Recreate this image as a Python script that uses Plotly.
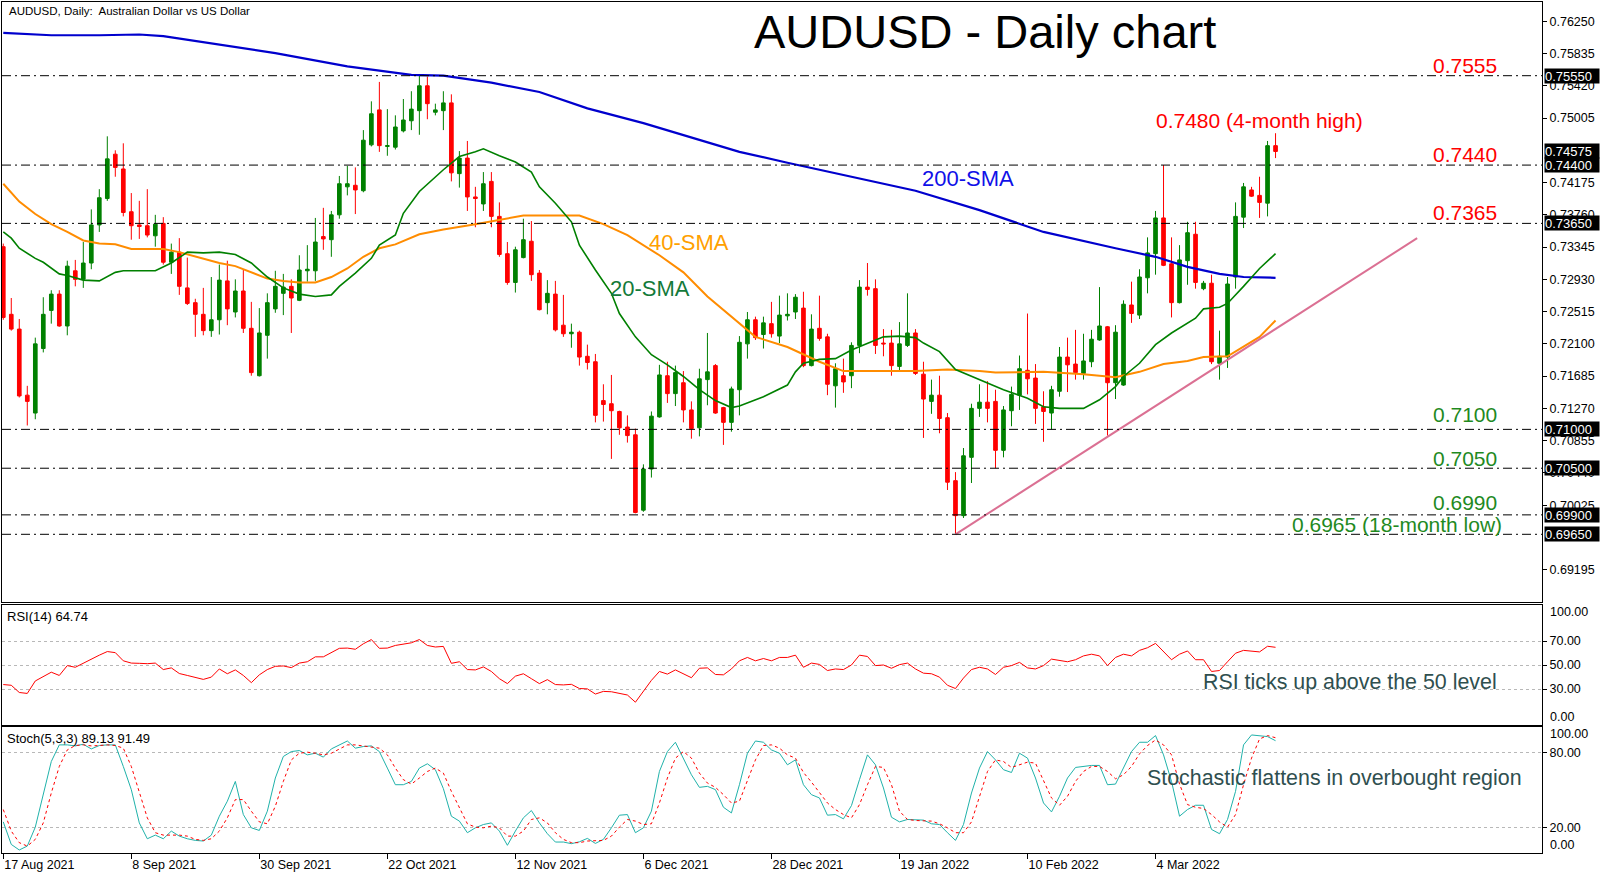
import plotly.graph_objects as go

# ---------------- DATA ----------------
opens = [0.7335,0.7248,0.7229,0.7144,0.7121,0.7204,0.7253,0.7274,0.7233,0.7304,
         0.7293,0.7314,0.7363,0.7397,0.7454,0.7435,0.7380,0.7363,0.7362,0.7349,
         0.7365,0.7315,0.7328,0.7282,0.7263,0.7248,0.7227,0.7241,0.7291,0.7251,
         0.7278,0.7230,0.7169,0.7221,0.7255,0.7275,0.7284,0.7266,0.7304,0.7304,
         0.7348,0.7344,0.7376,0.7412,0.7414,0.7407,0.7466,0.7511,0.7464,0.7463,
         0.7484,0.7497,0.7510,0.7542,0.7508,0.7510,0.7520,0.7429,0.7449,0.7399,
         0.7390,0.7419,0.7374,0.7326,0.7289,0.7321,0.7342,0.7301,0.7263,0.7274,
         0.7234,0.7223,0.7225,0.7194,0.7187,0.7137,0.7133,0.7123,0.7103,0.7093,
         0.6996,0.7049,0.7116,0.7169,0.7146,0.7160,0.7125,0.7102,0.7164,0.7182,
         0.7128,0.7109,0.7151,0.7210,0.7241,0.7222,0.7236,0.7220,0.7246,0.7251,
         0.7256,0.7182,0.7230,0.7219,0.7156,0.7169,0.7169,0.7208,0.7283,0.7281,
         0.7211,0.7211,0.7181,0.7208,0.7224,0.7171,0.7136,0.7144,0.7115,0.7034,
         0.6989,0.7064,0.7127,0.7135,0.7136,0.7073,0.7124,0.7144,0.7176,0.7166,
         0.7129,0.7121,0.7149,0.7193,0.7184,0.7172,0.7187,0.7215,0.7232,0.7160,
         0.7157,0.7260,0.7247,0.7295,0.7326,0.7372,0.7313,0.7263,0.7317,0.7351,
         0.7281,0.7288,0.7185,0.7193,0.7296,0.7373,0.7408,0.7401,0.7391,0.7465]
highs = [0.7339,0.7269,0.7242,0.7156,0.7218,0.7270,0.7279,0.7279,0.7317,0.7318,
         0.7341,0.7383,0.7409,0.7477,0.7459,0.7468,0.7404,0.7394,0.7409,0.7376,
         0.7373,0.7339,0.7346,0.7321,0.7268,0.7282,0.7296,0.7312,0.7317,0.7293,
         0.7305,0.7264,0.7256,0.7275,0.7304,0.7300,0.7293,0.7324,0.7337,0.7372,
         0.7385,0.7381,0.7426,0.7439,0.7437,0.7485,0.7522,0.7547,0.7512,0.7504,
         0.7525,0.7535,0.7555,0.7554,0.7519,0.7535,0.7531,0.7458,0.7471,0.7412,
         0.7431,0.7431,0.7392,0.7341,0.7335,0.7371,0.7368,0.7305,0.7292,0.7291,
         0.7273,0.7236,0.7227,0.7209,0.7197,0.7158,0.7170,0.7124,0.7118,0.7101,
         0.7055,0.7123,0.7183,0.7187,0.7182,0.7175,0.7136,0.7178,0.7224,0.7184,
         0.7129,0.7155,0.7220,0.7251,0.7245,0.7245,0.7264,0.7272,0.7275,0.7274,
         0.7277,0.7248,0.7272,0.7223,0.7185,0.7191,0.7212,0.7292,0.7314,0.7293,
         0.7229,0.7228,0.7238,0.7275,0.7229,0.7187,0.7164,0.7169,0.7121,0.7045,
         0.7076,0.7133,0.7158,0.7162,0.7151,0.7130,0.7155,0.7195,0.7249,0.7184,
         0.7149,0.7156,0.7206,0.7218,0.7228,0.7223,0.7228,0.7283,0.7233,0.7234,
         0.7266,0.7290,0.7306,0.7347,0.7381,0.7440,0.7347,0.7337,0.7367,0.7367,
         0.7291,0.7299,0.7227,0.7296,0.7392,0.7417,0.7412,0.7425,0.7471,0.7481]
lows = [0.7241,0.7227,0.7141,0.7105,0.7113,0.7199,0.7236,0.7232,0.7221,0.7284,
        0.7282,0.7306,0.7354,0.7394,0.7425,0.7374,0.7344,0.7345,0.7347,0.7335,
        0.7312,0.7300,0.7273,0.7260,0.7219,0.7221,0.7219,0.7222,0.7234,0.7244,
        0.7224,0.7169,0.7168,0.7191,0.7250,0.7247,0.7224,0.7265,0.7290,0.7291,
        0.7331,0.7322,0.7371,0.7401,0.7377,0.7405,0.7464,0.7457,0.7452,0.7460,
        0.7482,0.7485,0.7479,0.7499,0.7504,0.7485,0.7419,0.7411,0.7381,0.7360,
        0.7381,0.7360,0.7322,0.7286,0.7276,0.7320,0.7291,0.7253,0.7248,0.7226,
        0.7219,0.7205,0.7182,0.7177,0.7109,0.7110,0.7062,0.7093,0.7083,0.6992,
        0.6994,0.7038,0.7115,0.7134,0.7130,0.7109,0.7088,0.7091,0.7131,0.7120,
        0.7080,0.7097,0.7118,0.7191,0.7215,0.7204,0.7218,0.7211,0.7240,0.7242,
        0.7180,0.7181,0.7214,0.7144,0.7128,0.7147,0.7153,0.7198,0.7272,0.7197,
        0.7194,0.7169,0.7175,0.7206,0.7170,0.7089,0.7120,0.7095,0.7022,0.6965,
        0.6986,0.7031,0.7116,0.7109,0.7050,0.7064,0.7104,0.7125,0.7145,0.7107,
        0.7084,0.7100,0.7142,0.7148,0.7164,0.7164,0.7180,0.7214,0.7092,0.7139,
        0.7156,0.7237,0.7242,0.7275,0.7299,0.7310,0.7244,0.7262,0.7286,0.7281,
        0.7279,0.7184,0.7164,0.7179,0.7281,0.7359,0.7399,0.7372,0.7374,0.7449]
closes = [0.7244,0.7229,0.7143,0.7136,0.7210,0.7248,0.7274,0.7233,0.7310,0.7293,
          0.7314,0.7363,0.7398,0.7448,0.7437,0.7379,0.7362,0.7361,0.7350,0.7364,
          0.7315,0.7328,0.7284,0.7262,0.7248,0.7227,0.7241,0.7292,0.7255,0.7278,
          0.7230,0.7173,0.7224,0.7263,0.7284,0.7283,0.7269,0.7305,0.7306,0.7341,
          0.7345,0.7376,0.7416,0.7416,0.7408,0.7472,0.7506,0.7465,0.7465,0.7489,
          0.7498,0.7512,0.7542,0.7519,0.7511,0.7520,0.7430,0.7449,0.7399,0.7397,
          0.7416,0.7374,0.7325,0.7289,0.7331,0.7344,0.7299,0.7254,0.7275,0.7228,
          0.7223,0.7225,0.7193,0.7186,0.7118,0.7132,0.7124,0.7102,0.7092,0.6993,
          0.7049,0.7117,0.7170,0.7146,0.7173,0.7125,0.7101,0.7165,0.7174,0.7121,
          0.7109,0.7152,0.7212,0.7241,0.7218,0.7237,0.7223,0.7247,0.7248,0.7270,
          0.7182,0.7229,0.7217,0.7158,0.7178,0.7161,0.7208,0.7283,0.7280,0.7208,
          0.7210,0.7182,0.7210,0.7224,0.7172,0.7139,0.7144,0.7114,0.7032,0.6989,
          0.7066,0.7127,0.7135,0.7127,0.7073,0.7125,0.7145,0.7178,0.7165,0.7127,
          0.7123,0.7151,0.7193,0.7183,0.7173,0.7188,0.7216,0.7233,0.7160,0.7225,
          0.7261,0.7249,0.7296,0.7327,0.7372,0.7311,0.7263,0.7318,0.7353,0.7289,
          0.7288,0.7187,0.7194,0.7287,0.7374,0.7412,0.7400,0.7392,0.7465,0.74575]

# moving averages (bar index, value)
sma200_idx = [0, 6, 12, 17, 20, 25, 34, 43, 51, 55, 61, 67, 73, 80, 86, 92, 98, 105, 114, 122, 130, 139, 144, 148, 152, 155, 159]
sma200_val = [0.7610, 0.7607, 0.7607, 0.7608, 0.7606, 0.7598, 0.7584, 0.7567, 0.7556, 0.7555, 0.7546, 0.7534, 0.7513, 0.7494,
              0.7475, 0.7457, 0.7443, 0.7427, 0.7407, 0.7382, 0.7354, 0.7333, 0.7322, 0.7309, 0.7300, 0.7296, 0.7295]
sma40_idx = [0, 2, 4, 6, 8, 10, 12, 14, 16, 20, 22, 25, 27, 29, 31, 33, 35, 37, 39, 41, 43, 45, 47, 49, 52, 55, 59, 65, 69, 72,
             75, 78, 82, 85, 88, 92, 94, 98, 100, 102, 105, 110, 114, 118, 122, 124, 130, 135, 139, 142, 145, 148, 150, 153, 155, 157, 159]
sma40_val = [0.7416, 0.7393, 0.7377, 0.7364, 0.7354, 0.7343, 0.7339, 0.7338, 0.7332, 0.7332, 0.7328, 0.7320, 0.7314, 0.7310,
             0.7302, 0.7294, 0.7291, 0.7289, 0.7289, 0.7296, 0.7307, 0.7322, 0.7333, 0.7338, 0.7351, 0.7357, 0.7364, 0.7375,
             0.7375, 0.7375, 0.7364, 0.7350, 0.7324, 0.7302, 0.7271, 0.7237, 0.7219, 0.7206, 0.7196, 0.7187, 0.7175, 0.7175,
             0.7175, 0.7177, 0.7175, 0.7173, 0.7174, 0.7171, 0.7167, 0.7174, 0.7184, 0.7188, 0.7193, 0.7194, 0.7206, 0.7219, 0.7240]
sma20_idx = [0, 1, 2, 4, 5, 6, 7, 8, 10, 12, 14, 15, 19, 21, 23, 25, 27, 29, 31, 33, 35, 37, 39, 41, 42, 44, 46, 47, 49, 50,
             52, 55, 57, 59, 60, 62, 64, 66, 67, 69, 71, 72, 74, 76, 77, 79, 81, 83, 85, 87, 89, 91, 92, 95, 98, 99, 100, 102,
             104, 106, 108, 110, 112, 114, 115, 117, 119, 121, 123, 125, 128, 130, 132, 135, 137, 139, 140, 142, 144, 146, 149,
             150, 152, 153, 155, 157, 159]
sma20_val = [0.7354, 0.7346, 0.7333, 0.7320, 0.7315, 0.7307, 0.7300, 0.7298, 0.7292, 0.7291, 0.7302, 0.7304, 0.7304, 0.7314,
             0.7328, 0.7327, 0.7328, 0.7325, 0.7314, 0.7296, 0.7282, 0.7274, 0.7271, 0.7273, 0.7284, 0.7301, 0.7320, 0.7337,
             0.7350, 0.7378, 0.7406, 0.7434, 0.7451, 0.7457, 0.7461, 0.7452, 0.7444, 0.7431, 0.7412, 0.7391, 0.7367, 0.7337,
             0.7305, 0.7275, 0.7249, 0.7219, 0.7196, 0.7183, 0.7168, 0.7151, 0.7137, 0.7128, 0.7130, 0.7142, 0.7157, 0.7174,
             0.7185, 0.7190, 0.7191, 0.7202, 0.7211, 0.7219, 0.7220, 0.7218, 0.7211, 0.7200, 0.7177, 0.7168, 0.7159, 0.7151,
             0.7140, 0.7129, 0.7127, 0.7127, 0.7138, 0.7155, 0.7168, 0.7185, 0.7209, 0.7224, 0.7243, 0.7255, 0.7257, 0.7262,
             0.7284, 0.7307, 0.7326]

trend_idx = [119, 176.7]
trend_val = [0.6965, 0.7346]

rsi = [33.7,33.1,27.1,26.3,36.7,40.7,44.0,41.3,49.5,48.1,51.6,55.4,58.2,61.2,60.3,53.5,51.6,51.4,51.1,51.6,
       46.2,47.6,42.9,41.3,39.9,38.0,39.9,46.7,42.7,45.9,41.3,35.3,41.8,46.2,48.9,49.2,47.8,51.6,52.7,56.8,
       56.8,60.3,63.9,64.1,63.1,67.7,71.2,63.9,64.1,66.3,67.4,68.5,71.2,66.3,65.0,65.5,51.4,52.7,46.2,45.9,
       48.4,44.6,38.6,34.5,40.7,42.7,38.6,34.5,37.8,33.7,33.4,33.9,30.4,30.1,25.8,28.0,27.7,26.3,25.0,19.0,
       28.2,37.2,44.6,42.4,45.9,42.7,39.4,47.3,47.6,42.1,41.8,46.7,53.5,56.3,53.5,55.4,53.5,56.3,56.3,58.2,
       48.1,51.6,50.5,45.4,46.7,46.2,50.0,58.2,57.1,49.5,50.0,47.3,50.3,51.6,46.7,43.2,42.7,39.9,33.1,30.4,
       39.1,46.2,48.1,46.7,42.1,48.1,49.5,52.2,47.6,46.7,49.5,54.9,53.5,52.7,54.4,57.6,59.0,57.6,49.5,56.3,
       59.0,57.6,62.2,64.4,68.0,60.9,54.4,59.0,61.7,54.4,54.4,44.6,45.4,52.7,59.8,62.2,61.7,60.9,65.6,64.74]
stoch_k = [24.7,6.8,2.4,5.5,20.5,46.3,72.6,85.8,85.8,85.0,86.3,82.6,85.3,85.8,85.8,68.7,50.3,23.9,11.3,14.2,
           11.3,17.4,13.4,11.3,10.0,9.5,14.2,29.2,41.1,56.8,30.5,20.0,17.9,33.2,59.5,76.6,80.5,81.3,77.9,79.2,
           76.1,82.6,85.8,88.9,83.2,84.5,85.0,80.5,67.4,54.2,54.2,56.8,67.4,70.8,66.1,51.1,29.2,25.3,16.1,20.0,
           22.6,23.9,17.4,6.1,17.4,27.9,33.7,23.9,15.3,8.7,8.7,7.4,8.9,11.6,7.6,10.8,20.0,30.0,30.5,16.1,
           20.0,33.2,64.7,80.5,87.9,75.3,62.1,52.1,52.9,50.3,36.3,31.8,54.2,79.2,88.9,87.9,81.8,79.2,70.0,73.9,
           54.2,46.3,43.7,30.0,30.5,27.1,37.6,58.2,77.9,70.0,51.6,28.4,24.7,26.6,26.1,26.1,23.2,22.6,16.1,10.0,
           22.6,47.6,67.4,80.5,73.9,66.1,63.9,79.2,75.3,59.5,39.7,32.6,45.0,59.5,67.9,68.7,69.5,69.5,54.2,54.7,
           67.4,80.5,87.9,87.9,93.2,77.9,56.8,29.2,34.5,37.9,37.9,18.7,15.3,26.6,48.9,85.8,93.7,92.9,92.4,89.13]
stoch_d = [34.5,17.4,8.2,5.5,10.8,23.9,47.6,68.7,81.8,85.3,85.8,85.0,85.3,85.8,85.3,83.2,68.7,48.9,27.9,16.1,
           14.2,14.2,14.2,13.4,10.8,10.0,11.3,17.4,27.9,42.4,42.4,33.2,24.7,23.2,37.1,56.8,73.9,79.2,80.0,79.2,
           77.9,79.2,82.4,85.8,85.8,85.0,84.5,83.2,77.9,67.4,58.2,54.7,59.5,64.7,67.4,63.4,48.9,35.8,23.2,20.5,
           20.0,21.3,20.0,13.4,13.4,17.4,26.6,27.9,23.9,16.1,10.8,8.2,8.2,9.5,9.5,10.0,13.4,20.5,26.6,25.3,
           22.6,23.2,39.7,59.5,75.3,80.5,75.3,63.4,55.5,52.1,46.3,39.7,41.1,56.8,73.9,85.3,85.8,83.2,77.9,75.3,
           63.9,56.3,47.6,39.7,34.5,30.5,27.9,38.4,54.2,68.7,67.9,54.2,33.2,26.6,25.8,25.8,25.3,23.2,20.0,16.1,
           16.1,24.7,45.0,64.7,73.9,72.6,67.9,70.0,72.1,71.3,56.8,43.7,37.9,45.0,56.8,64.7,68.7,68.7,64.7,58.9,
           62.1,68.7,78.7,85.3,89.7,85.8,77.9,54.7,38.4,36.3,35.3,30.5,24.7,20.5,30.5,54.2,75.3,90.5,93.2,91.49]

red_levels = [0.7555, 0.7440, 0.7365]
green_levels = [0.7100, 0.7050, 0.6990, 0.6965]
high_label = 0.7480
price_ticks = [0.69195, 0.70025, 0.70440, 0.70855, 0.71270, 0.71685, 0.72100, 0.72515,
               0.72930, 0.73345, 0.73760, 0.74175, 0.75005, 0.75420, 0.75835, 0.76250]
date_idx = [0, 16, 32, 48, 64, 80, 96, 112, 128, 144]
date_labels = ["17 Aug 2021", "8 Sep 2021", "30 Sep 2021", "22 Oct 2021", "12 Nov 2021",
               "6 Dec 2021", "28 Dec 2021", "19 Jan 2022", "10 Feb 2022", "4 Mar 2022"]
rsi_levels = [30, 50, 70]
stoch_levels = [20, 80]

# ---------------- LAYOUT HELPERS ----------------
W, H = 1610, 877
ML, MR, MT, MB = 2, 68, 2, 24
PW = W - ML - MR
PH = H - MT - MB
FONT = "Liberation Sans, Arial, sans-serif"


def px(x):
    return (x - ML) / PW


def py(y):
    return (H - MB - y) / PH


bars = list(range(len(opens)))

fig = go.Figure()
fig.add_trace(go.Candlestick(
    x=bars, open=opens, high=highs, low=lows, close=closes,
    increasing=dict(line=dict(color="#008000", width=1), fillcolor="#008000"),
    decreasing=dict(line=dict(color="#ff0000", width=1), fillcolor="#ff0000"),
    whiskerwidth=0, hoverinfo="skip", showlegend=False, xaxis="x", yaxis="y"))

fig.add_trace(go.Scatter(x=sma200_idx, y=sma200_val, mode="lines", line=dict(color="#0000cd", width=2.2),
                         hoverinfo="skip", xaxis="x", yaxis="y"))
fig.add_trace(go.Scatter(x=sma40_idx, y=sma40_val, mode="lines", line=dict(color="#ff8c00", width=2),
                         hoverinfo="skip", xaxis="x", yaxis="y"))
fig.add_trace(go.Scatter(x=sma20_idx, y=sma20_val, mode="lines", line=dict(color="#008000", width=1.6),
                         hoverinfo="skip", xaxis="x", yaxis="y"))
fig.add_trace(go.Scatter(x=trend_idx, y=trend_val, mode="lines", line=dict(color="#db7093", width=2),
                         hoverinfo="skip", xaxis="x", yaxis="y"))

fig.add_trace(go.Scatter(x=bars, y=rsi, mode="lines", line=dict(color="#ff0000", width=1),
                         hoverinfo="skip", xaxis="x2", yaxis="y2"))
fig.add_trace(go.Scatter(x=bars, y=stoch_k, mode="lines", line=dict(color="#20b2aa", width=1),
                         hoverinfo="skip", xaxis="x3", yaxis="y3"))
fig.add_trace(go.Scatter(x=bars, y=stoch_d, mode="lines", line=dict(color="#ff0000", width=1, dash="3px,3px"),
                         hoverinfo="skip", xaxis="x3", yaxis="y3"))

shapes = []
for lv in red_levels + green_levels:
    shapes.append(dict(type="line", xref="x domain", x0=0, x1=1, yref="y", y0=lv, y1=lv,
                       line=dict(color="black", width=1, dash="9px,4px,2px,4px")))

ann = []


def txt(text, x, y, size, color, xanchor="center", yanchor="middle", family=FONT):
    ann.append(dict(text=text, xref="paper", yref="paper", x=px(x), y=py(y), xanchor=xanchor,
                    yanchor=yanchor, showarrow=False, font=dict(family=family, size=size, color=color)))


txt("AUDUSD, Daily:\u00a0 Australian Dollar vs US Dollar", 7, 11.5, 11.5, "black", xanchor="left")
txt("AUDUSD - Daily chart", 984.5, 32, 47, "black")
txt(f"{red_levels[0]:.4f}", 1499, 65, 21, "#ff0000", xanchor="right")
txt(f"{red_levels[1]:.4f}", 1499, 154.3, 21, "#ff0000", xanchor="right")
txt(f"{red_levels[2]:.4f}", 1499, 212.7, 21, "#ff0000", xanchor="right")
txt(f"{high_label:.4f} (4-month high)", 1259, 120, 21, "#ff0000")
GREEN_TXT = "#1f8a1f"
txt(f"{green_levels[0]:.4f}", 1499, 415, 21, GREEN_TXT, xanchor="right")
txt(f"{green_levels[1]:.4f}", 1499, 458.3, 21, GREEN_TXT, xanchor="right")
txt(f"{green_levels[2]:.4f}", 1499, 502.7, 21, GREEN_TXT, xanchor="right")
txt(f"{green_levels[3]:.4f} (18-month low)", 1504, 524.5, 21, GREEN_TXT, xanchor="right")
txt("200-SMA", 968, 178, 22, "#1010e8")
txt("40-SMA", 689, 243, 22, "#ffa000")
txt("20-SMA", 650, 289, 22, "#137a3a")
txt("RSI ticks up above the 50 level", 1349.5, 682, 21.4, "#2f4f4f")
txt("Stochastic flattens in overbought region", 1334.5, 778, 21.4, "#2f4f4f")
txt(f"RSI(14) {rsi[-1]:.2f}", 5, 616, 13, "black", xanchor="left")
txt(f"Stoch(5,3,3) {stoch_k[-1]:.2f} {stoch_d[-1]:.2f}", 5, 738, 13, "black", xanchor="left")

# highlighted price boxes on the right scale
for lv in red_levels[:1] + [closes[-1]] + red_levels[1:] + green_levels:
    ann.append(dict(text=f"{lv:.5f}", xref="paper", x=1, xanchor="left", xshift=2, yref="y", y=lv,
                    yanchor="middle", showarrow=False, bgcolor="black", borderpad=0, width=54, height=14,
                    align="left", font=dict(family=FONT, size=13, color="white")))

# edge labels for oscillator scales
for yr in ("y2", "y3"):
    ann.append(dict(text="100.00", xref="paper", x=1, xanchor="left", xshift=6, yref=yr, y=100,
                    yanchor="top", yshift=2, showarrow=False, font=dict(family=FONT, size=12.5, color="black")))
    ann.append(dict(text="0.00", xref="paper", x=1, xanchor="left", xshift=6, yref=yr, y=0,
                    yanchor="bottom", yshift=-1, showarrow=False, font=dict(family=FONT, size=12.5, color="black")))

frame = dict(showline=True, mirror=True, linecolor="black", linewidth=1, zeroline=False)
xrng = [-0.16, 192.3]

fig.update_layout(
    width=W, height=H, margin=dict(l=ML, r=MR, t=MT, b=MB),
    paper_bgcolor="white", plot_bgcolor="white", showlegend=False, hovermode=False,
    boxgap=0.35,
    font=dict(family=FONT, size=12.5, color="black"),
    xaxis=dict(domain=[0, 1], anchor="y", range=xrng, showticklabels=False, ticks="", showgrid=False,
               rangeslider=dict(visible=False), **frame),
    yaxis=dict(domain=[py(602), 1], anchor="x", side="right", range=[0.68779, 0.76498],
               tickvals=price_ticks, ticktext=[f"{v:.5f}" for v in price_ticks], ticks="outside",
               ticklen=4, tickcolor="black", showgrid=False, **frame),
    xaxis2=dict(domain=[0, 1], anchor="y2", matches="x", range=xrng, showticklabels=False, ticks="",
                showgrid=False, **frame),
    yaxis2=dict(domain=[py(725), py(605)], anchor="x2", side="right", range=[0, 100],
                tickvals=rsi_levels, ticktext=[f"{v:.2f}" for v in rsi_levels], ticks="outside",
                ticklen=4, tickcolor="black", showgrid=True, gridcolor="#b8b8b8", griddash="dot",
                gridwidth=1, **frame),
    xaxis3=dict(domain=[0, 1], anchor="y3", matches="x", range=xrng, tickvals=date_idx,
                ticktext=date_labels, ticks="outside", ticklen=5, tickcolor="black",
                ticklabelposition="outside right", showgrid=False, **frame),
    yaxis3=dict(domain=[0, py(727)], anchor="x3", side="right", range=[0, 100],
                tickvals=stoch_levels, ticktext=[f"{v:.2f}" for v in stoch_levels], ticks="outside",
                ticklen=4, tickcolor="black", showgrid=True, gridcolor="#b8b8b8", griddash="dot",
                gridwidth=1, **frame),
    shapes=shapes,
    annotations=ann,
)

fig.write_html("out.html", config={"displayModeBar": False})
